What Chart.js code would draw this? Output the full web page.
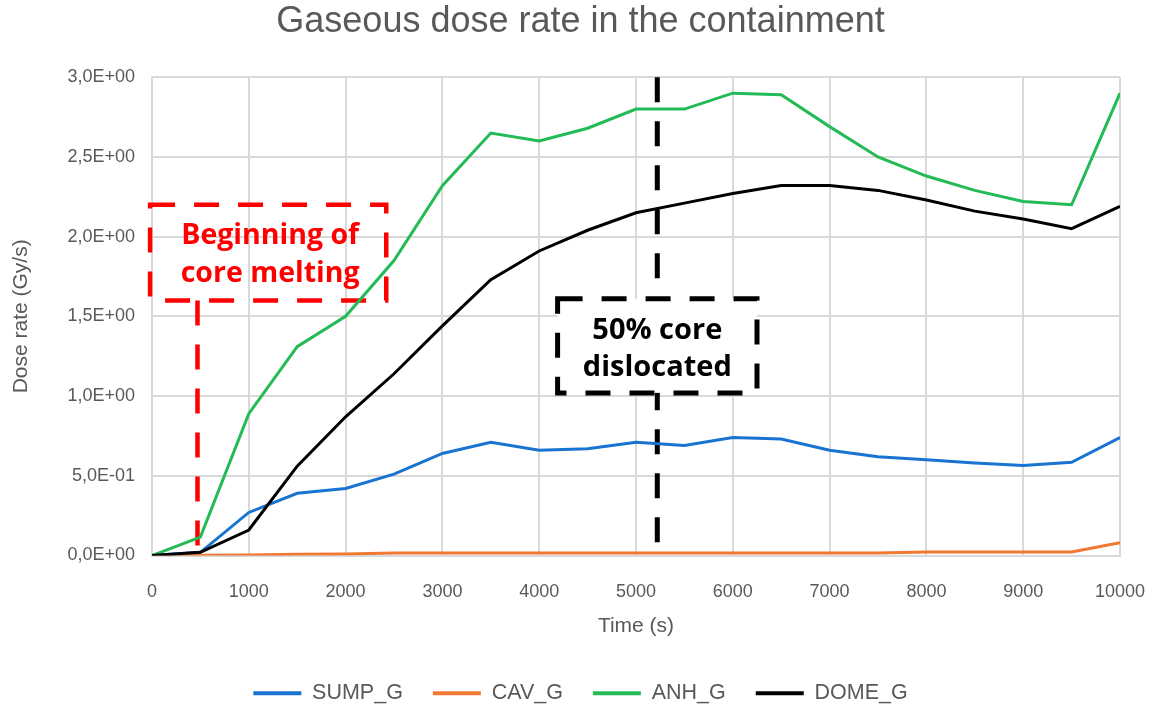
<!DOCTYPE html>
<html>
<head>
<meta charset="utf-8">
<script src="https://cdn.jsdelivr.net/npm/chart.js@4/dist/chart.umd.min.js"></script>
<style>
  html, body { margin: 0; padding: 0; background: #ffffff; }
  #wrap { width: 1161px; height: 710px; position: relative; }
</style>
</head>
<body>
<div id="wrap"><canvas id="c" width="1161" height="710"></canvas></div>
<script>
// ---- data ----
const times = [0, 500, 1000, 1500, 2000, 2500, 3000, 3500, 4000, 4500, 5000,
               5500, 6000, 6500, 7000, 7500, 8000, 8500, 9000, 9500, 10000];
const sumpG = [0, 0.02, 0.27, 0.39, 0.42, 0.51, 0.64, 0.71, 0.66, 0.67, 0.71,
               0.69, 0.74, 0.73, 0.66, 0.62, 0.60, 0.58, 0.565, 0.585, 0.74];
const cavG  = [0, 0.002, 0.003, 0.008, 0.01, 0.015, 0.015, 0.015, 0.015, 0.015, 0.015,
               0.015, 0.015, 0.015, 0.015, 0.016, 0.022, 0.022, 0.022, 0.022, 0.08];
const anhG  = [0, 0.115, 0.89, 1.31, 1.50, 1.85, 2.32, 2.65, 2.60, 2.68, 2.80,
               2.80, 2.90, 2.89, 2.69, 2.50, 2.38, 2.29, 2.22, 2.20, 2.90];
const domeG = [0, 0.02, 0.16, 0.56, 0.87, 1.14, 1.44, 1.73, 1.91, 2.04, 2.15,
               2.21, 2.27, 2.32, 2.32, 2.29, 2.23, 2.16, 2.11, 2.05, 2.19];
const seriesNames = ['SUMP_G', 'CAV_G', 'ANH_G', 'DOME_G'];
const yTickLabels = ['0,0E+00', '5,0E-01', '1,0E+00', '1,5E+00', '2,0E+00', '2,5E+00', '3,0E+00'];
const xTickValues = [0, 1000, 2000, 3000, 4000, 5000, 6000, 7000, 8000, 9000, 10000];
const meltStart = 470;       // s, "Beginning of core melting"
const halfCore = 5220;       // s, "50% core dislocated"
const meltLabel = ['Beginning of', 'core melting'];
const coreLabel = ['50% core', 'dislocated'];

const colors = ['#1874D0', '#F07830', '#22BB55', '#000000'];
const seriesValues = [sumpG, cavG, anhG, domeG];

const GRAY = '#595959';
const FONT = "'Liberation Sans', Arial, sans-serif";

// ---- annotation plugin (drawn in data units through the scales) ----
const annotations = {
  id: 'annot',
  beforeDatasetsDraw(chart) {
    const {ctx, scales: {x, y}} = chart;
    ctx.save();
    ctx.lineCap = 'butt';
    // black vertical dashed line
    ctx.setLineDash([25, 19]);
    ctx.lineWidth = 5;
    ctx.strokeStyle = '#000';
    ctx.beginPath();
    ctx.moveTo(x.getPixelForValue(halfCore), y.getPixelForValue(3.0));
    ctx.lineTo(x.getPixelForValue(halfCore), y.getPixelForValue(0));
    ctx.stroke();
    // black box (white filled)
    const bx1 = x.getPixelForValue(4190), bx2 = x.getPixelForValue(6250);
    const by1 = y.getPixelForValue(1.61), by2 = y.getPixelForValue(1.02);
    ctx.setLineDash([]);
    ctx.fillStyle = '#fff';
    ctx.fillRect(bx1, by1, bx2 - bx1, by2 - by1);
    ctx.setLineDash([25, 19]);
    ctx.strokeRect(bx1, by1, bx2 - bx1, by2 - by1);
    ctx.setLineDash([]);
    ctx.fillStyle = '#000';
    ctx.font = "bold 29px 'Open Sans', sans-serif";
    ctx.textAlign = 'center';
    ctx.textBaseline = 'middle';
    const bcx = (bx1 + bx2) / 2;
    ctx.fillText(coreLabel[0], bcx, by1 + 32);
    ctx.fillText(coreLabel[1], bcx, by1 + 69);

    // red box
    const rx1 = x.getPixelForValue(-20), rx2 = x.getPixelForValue(2420);
    const ry1 = y.getPixelForValue(2.2), ry2 = y.getPixelForValue(1.6);
    ctx.strokeStyle = '#FF0000';
    ctx.lineWidth = 4.5;
    ctx.setLineDash([25, 19]);
    ctx.strokeRect(rx1, ry1, rx2 - rx1, ry2 - ry1);
    ctx.beginPath();
    ctx.moveTo(x.getPixelForValue(meltStart), ry2);
    ctx.lineTo(x.getPixelForValue(meltStart), y.getPixelForValue(0));
    ctx.stroke();
    ctx.setLineDash([]);
    ctx.fillStyle = '#FF0000';
    ctx.font = "bold 28.5px 'Open Sans', sans-serif";
    const rcx = (rx1 + rx2) / 2 + 2;
    ctx.fillText(meltLabel[0], rcx, ry1 + 31);
    ctx.fillText(meltLabel[1], rcx, ry1 + 69);
    ctx.restore();
  }
};

const datasets = seriesNames.map((name, i) => ({
  label: name,
  data: times.map((t, k) => ({x: t, y: seriesValues[i][k]})),
  borderColor: colors[i],
  backgroundColor: colors[i],
  borderWidth: 3,
  pointRadius: 0,
  tension: 0,
  order: 4 - i
}));

new Chart(document.getElementById('c'), {
  type: 'line',
  data: { datasets },
  plugins: [annotations],
  options: {
    responsive: false,
    animation: false,
    layout: { padding: { left: 0, right: 0, top: 0, bottom: -4 } },
    plugins: {
      title: {
        display: true,
        text: 'Gaseous dose rate in the containment',
        color: GRAY,
        font: { family: FONT, size: 36, weight: 'normal' },
        padding: { top: 0, bottom: 34 }
      },
      legend: {
        position: 'bottom',
        labels: {
          color: GRAY,
          font: { family: FONT, size: 21.5 },
          boxWidth: 48,
          boxHeight: 4,
          padding: 30,
          generateLabels: (chart) => chart.data.datasets.map((d, i) => ({
            text: d.label,
            fillStyle: d.borderColor,
            strokeStyle: d.borderColor,
            lineWidth: 0,
            hidden: false,
            datasetIndex: i,
            fontColor: GRAY
          }))
        }
      },
      tooltip: { enabled: false }
    },
    scales: {
      x: {
        type: 'linear',
        min: 0, max: 10000,
        afterBuildTicks: (s) => { s.ticks = xTickValues.map(v => ({value: v})); },
        afterFit: (s) => { s.height = 97; },
        ticks: { color: GRAY, font: { family: FONT, size: 18 }, padding: 3, maxRotation: 0,
                 callback: (v) => String(v) },
        grid: { color: '#D9D9D9', lineWidth: 2, drawTicks: true, tickLength: 23,
                tickColor: 'rgba(0,0,0,0)' },
        border: { color: '#D9D9D9', width: 2 },
        title: { display: true, text: 'Time (s)', color: GRAY,
                 font: { family: FONT, size: 21 }, padding: { top: 0, bottom: 14 } }
      },
      y: {
        min: 0, max: 3,
        afterBuildTicks: (s) => { s.ticks = yTickLabels.map((_, i) => ({value: i * 0.5})); },
        afterFit: (s) => { s.width = 152; },
        ticks: { color: GRAY, font: { family: FONT, size: 18 }, padding: 17,
                 callback: (v, i) => yTickLabels[i] },
        grid: { color: '#D9D9D9', lineWidth: 2, drawTicks: false },
        border: { color: '#D9D9D9', width: 2 },
        title: { display: true, text: 'Dose rate (Gy/s)', color: GRAY,
                 font: { family: FONT, size: 21 }, padding: { top: 9, bottom: 0 } }
      },
      yRightSpace: {
        position: 'right',
        display: true,
        min: 0, max: 3,
        afterFit: (s) => { s.width = 41; },
        ticks: { display: false },
        grid: { display: false, drawTicks: false },
        border: { display: false },
        title: { display: false }
      }
    }
  }
});
</script>
</body>
</html>
